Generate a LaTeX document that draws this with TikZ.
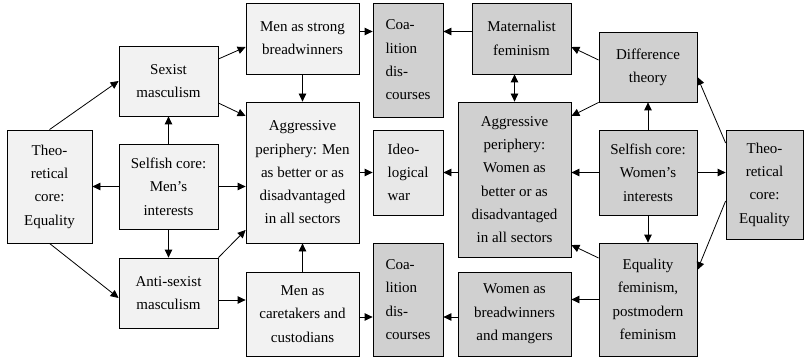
\documentclass[tikz,border=0pt]{standalone}
\usepackage{fontspec}
\setmainfont{Liberation Serif}
\usepackage{tikz}
\usetikzlibrary{arrows.meta}
\definecolor{menfill}{HTML}{F2F2F2}
\definecolor{warfill}{HTML}{E8E8E8}
\definecolor{womenfill}{HTML}{D0D0D0}
\tikzset{
  box/.style={draw,line width=0.8pt,inner sep=0pt,align=center,font=\fontsize{15}{23.3}\selectfont},
  menbox/.style={box,fill=menfill},
  warbox/.style={box,fill=warfill,align=left},
  womenbox/.style={box,fill=womenfill},
  flow/.style={-{Triangle[length=8pt,width=7.5pt]},line width=0.8pt},
  twoway/.style={{Triangle[length=8pt,width=7.5pt]}-{Triangle[length=8pt,width=7.5pt]},line width=0.8pt}
}

\begin{document}
\begin{tikzpicture}[x=1pt,y=-1pt]
  \useasboundingbox (0,0) rectangle (805,358);
  \node[menbox,minimum width=85pt,minimum height=113pt] (theoL) at (49.5,186.5) {Theo-\\retical\\core:\\Equality};
  \node[menbox,minimum width=99pt,minimum height=70pt] (sexist) at (168.5,81) {Sexist\\masculism};
  \node[menbox,minimum width=99pt,minimum height=85pt] (selfM) at (168.5,186.5) {Selfish core:\\Men’s\\interests};
  \node[menbox,minimum width=99pt,minimum height=70pt] (anti) at (168.5,293) {Anti-sexist\\masculism};
  \node[menbox,minimum width=113pt,minimum height=71pt] (strong) at (302.5,38.5) {Men as strong\\breadwinners};
  \node[menbox,minimum width=113pt,minimum height=141pt] (aggM) at (302.5,172.5) {Aggressive\\periphery: Men\\as better or as\\disadvantaged\\in all sectors};
  \node[menbox,minimum width=113pt,minimum height=84pt] (care) at (302.5,314) {Men as\\caretakers and\\custodians};
  \node[womenbox,align=left,minimum width=70pt,minimum height=114pt] (coalT) at (408,60) {Coa-\\lition\\dis-\\courses};
  \node[warbox,minimum width=70pt,minimum height=85pt] (ideo) at (408,172.5) {Ideo-\\logical\\war};
  \node[womenbox,align=left,minimum width=70pt,minimum height=113pt] (coalB) at (408,299.5) {Coa-\\lition\\dis-\\courses};
  \node[womenbox,minimum width=99pt,minimum height=71pt] (mat) at (521.5,38.5) {Maternalist\\feminism};
  \node[womenbox,minimum width=113pt,minimum height=155pt] (aggW) at (514.5,179.5) {Aggressive\\periphery:\\Women as\\better or as\\disadvantaged\\in all sectors};
  \node[womenbox,minimum width=113pt,minimum height=84pt] (womenB) at (514.5,314) {Women as\\breadwinners\\and mangers};
  \node[womenbox,minimum width=98pt,minimum height=70pt] (diff) at (648,67) {Difference\\theory};
  \node[womenbox,minimum width=98pt,minimum height=85pt] (selfW) at (648,172.5) {Selfish core:\\Women’s\\interests};
  \node[womenbox,minimum width=98pt,minimum height=113pt] (eqf) at (648,299.5) {Equality\\feminism,\\postmodern\\feminism};
  \node[womenbox,minimum width=77pt,minimum height=109pt] (theoR) at (764.5,184.5) {Theo-\\retical\\core:\\Equality};

  \draw[flow] (theoL.north) -- (sexist.west);
  \draw[flow] (theoL.south) -- ([yshift=-5pt]anti.west);
  \draw[flow] (selfM.west) -- (theoL.east);
  \draw[flow] (selfM.north) -- (sexist.south);
  \draw[flow] (selfM.south) -- (anti.north);
  \draw[flow] (selfM.east) -- (selfM.east -| aggM.west);
  \draw[flow] ([yshift=22pt]sexist.east) -- ([yshift=-8.5pt]strong.west);
  \draw[flow] ([yshift=-22pt]sexist.east) -- ([yshift=56.5pt]aggM.west);
  \draw[flow] (anti.north east) -- ([yshift=-57.5pt]aggM.west);
  \draw[flow] ([yshift=-7pt]anti.east) -- ([yshift=-7pt]anti.east -| care.west);
  \draw[flow] (strong.south) -- (aggM.north);
  \draw[flow] (care.north) -- (aggM.south);
  \draw[flow] ([yshift=7pt]strong.east) -- ([yshift=7pt]strong.east -| coalT.west);
  \draw[flow] (aggM.east) -- (ideo.west);
  \draw[flow] (ideo.east -| aggW.west) -- (ideo.east);
  \draw[flow] ([yshift=7pt]mat.west) -- ([yshift=7pt]mat.west -| coalT.east);
  \draw[twoway] (aggW.north) -- (aggW.north |- mat.south);
  \draw[flow] ([yshift=7pt]diff.west) -- ([yshift=-8.5pt]mat.east);
  \draw[flow] (diff.south west) -- ([yshift=63.5pt]aggW.east);
  \draw[flow] (selfW.north) -- (diff.south);
  \draw[flow] (selfW.south) -- (eqf.north);
  \draw[flow] (selfW.west) -- (selfW.west -| aggW.east);
  \draw[flow] (selfW.east) -- (selfW.east -| theoR.west);
  \draw[flow] ([yshift=41.5pt]theoR.west) -- ([yshift=-10pt]diff.east);
  \draw[flow] ([yshift=-16.5pt]theoR.west) -- ([yshift=29.5pt]eqf.east);
  \draw[flow] ([yshift=41.5pt]eqf.west) -- ([yshift=-65.5pt]aggW.east);
  \draw[flow] (eqf.west) -- (eqf.west -| womenB.east);
  \draw[flow] ([yshift=-3pt]care.east) -- ([yshift=-3pt]care.east -| coalB.west);
  \draw[flow] ([yshift=-3pt]womenB.west) -- ([yshift=-3pt]womenB.west -| coalB.east);
\end{tikzpicture}
\end{document}
